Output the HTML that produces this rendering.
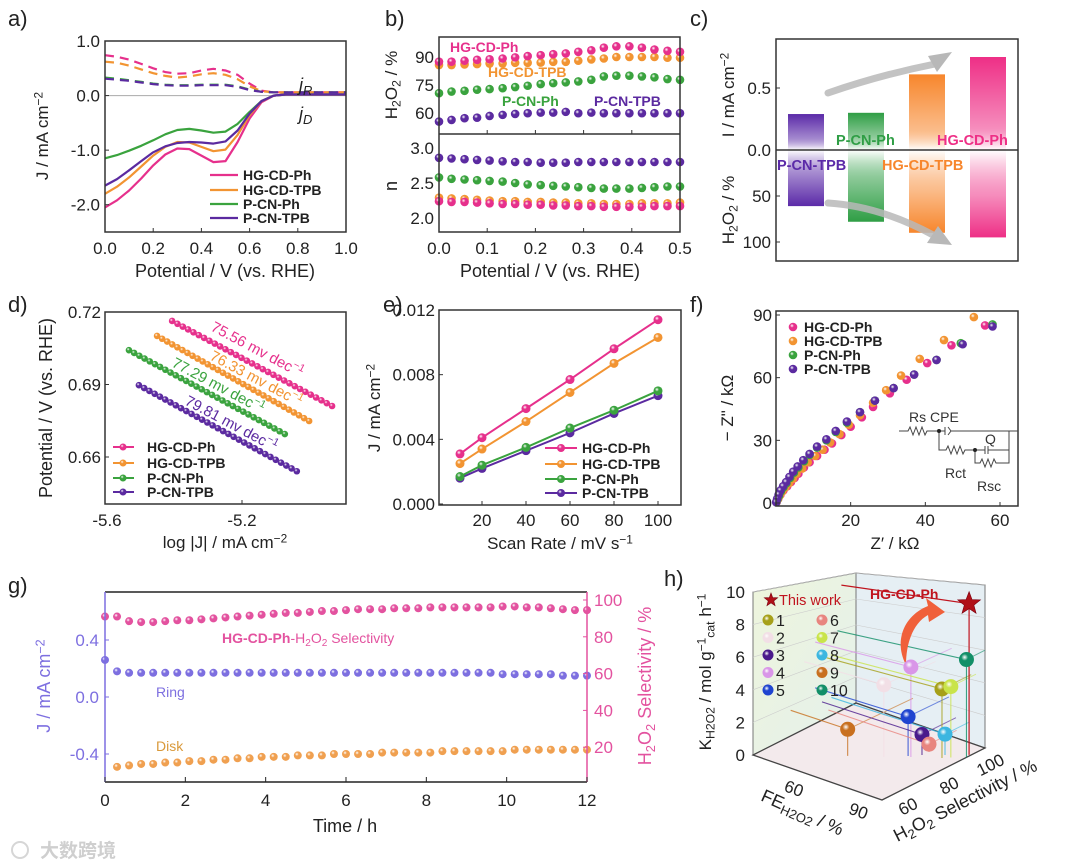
<!DOCTYPE html>
<html><head><meta charset="utf-8"><style>
html,body{margin:0;padding:0;background:#fff;}
svg{display:block;font-family:"Liberation Sans","Noto Sans CJK SC",sans-serif;}
</style></head><body>
<svg id="fig" width="1080" height="868" viewBox="0 0 1080 868" xmlns="http://www.w3.org/2000/svg">
<defs id="defs"></defs>
<rect x="0" y="0" width="1080" height="868" fill="#fff"/>
</svg>
<script>
// ---------- DATA ----------
const seriesNames=["HG-CD-Ph","HG-CD-TPB","P-CN-Ph","P-CN-TPB"];
const seriesColors=["#e6308c","#f29432","#3aa33e","#5b2aa0"];
// panel a: LSV, x = 0..1 step 0.05
const aX=[0,0.05,0.1,0.15,0.2,0.25,0.3,0.35,0.4,0.45,0.5,0.55,0.6,0.65,0.7,0.75,0.8,0.85,0.9,0.95,1.0];
const aDisk=[
[-2.05,-1.92,-1.74,-1.52,-1.28,-1.08,-0.97,-0.98,-1.1,-1.22,-1.2,-0.85,-0.42,-0.12,0.0,0.02,0.02,0.02,0.02,0.02,0.02],
[-1.8,-1.67,-1.5,-1.3,-1.1,-0.94,-0.85,-0.86,-0.94,-1.02,-0.99,-0.72,-0.36,-0.1,0.0,0.02,0.02,0.02,0.02,0.02,0.02],
[-1.15,-1.09,-1.01,-0.92,-0.82,-0.71,-0.63,-0.61,-0.64,-0.68,-0.66,-0.52,-0.3,-0.1,0.0,0.02,0.02,0.02,0.02,0.02,0.02],
[-1.65,-1.53,-1.37,-1.2,-1.04,-0.93,-0.87,-0.85,-0.86,-0.88,-0.84,-0.64,-0.33,-0.1,0.0,0.02,0.02,0.02,0.02,0.02,0.02]];
const aRing=[
[0.74,0.71,0.66,0.58,0.5,0.43,0.4,0.41,0.46,0.49,0.46,0.38,0.22,0.09,0.06,0.06,0.06,0.06,0.06,0.06,0.06],
[0.62,0.6,0.55,0.48,0.41,0.36,0.33,0.35,0.39,0.41,0.38,0.3,0.17,0.08,0.06,0.06,0.06,0.06,0.06,0.06,0.06],
[0.33,0.31,0.28,0.25,0.22,0.2,0.19,0.19,0.2,0.2,0.2,0.17,0.11,0.07,0.06,0.06,0.06,0.06,0.06,0.06,0.06],
[0.31,0.29,0.27,0.24,0.21,0.19,0.18,0.18,0.19,0.19,0.19,0.16,0.1,0.07,0.06,0.06,0.06,0.06,0.06,0.06,0.06]];
const aXTicks=[0,0.2,0.4,0.6,0.8,1.0];
const aYTicks=[1.0,0.0,-1.0,-2.0];
// panel b
const bX=[0,0.026,0.053,0.079,0.105,0.132,0.158,0.184,0.211,0.237,0.263,0.289,0.316,0.342,0.368,0.395,0.421,0.447,0.474,0.5];
const bSel=[
[87.5,87.5,88,88.5,88.8,89.2,89.8,90.5,91,91.5,91.9,92.8,93.6,95,95.7,95.7,95,94,93.3,92.8],
[85.7,85.7,86,86.2,86.5,86.5,86.9,86.9,87,87.4,87.4,88,88.7,89.2,90,90,90,90,89.6,89.6],
[70.6,71.5,71.9,72.5,72.8,73.3,73.9,74.6,75.5,76,76.4,76.9,77.8,79.6,80,80,79.6,79.1,78.2,77.8],
[55.4,56.3,57.2,57.5,58.4,59,59.5,59.9,60.2,60.2,60.6,59.9,60.2,59.9,59.9,59.9,59.9,59.9,59.9,59.9]];
const bN=[
[2.24,2.23,2.23,2.22,2.21,2.2,2.2,2.19,2.19,2.18,2.18,2.17,2.17,2.16,2.16,2.16,2.16,2.17,2.17,2.17],
[2.29,2.28,2.27,2.26,2.25,2.24,2.24,2.23,2.23,2.22,2.22,2.21,2.21,2.2,2.2,2.2,2.21,2.21,2.21,2.22],
[2.58,2.56,2.55,2.54,2.53,2.52,2.5,2.48,2.47,2.46,2.45,2.44,2.43,2.42,2.42,2.42,2.43,2.44,2.45,2.45],
[2.86,2.85,2.84,2.83,2.82,2.81,2.8,2.8,2.79,2.79,2.79,2.8,2.8,2.8,2.8,2.8,2.8,2.8,2.8,2.8]];
const bXTicks=[0,0.1,0.2,0.3,0.4,0.5];
const bSelTicks=[90,75,60];
const bNTicks=[3.0,2.5,2.0];
// panel c
const cNames=["P-CN-TPB","P-CN-Ph","HG-CD-TPB","HG-CD-Ph"];
const cColors=["#5b2aa8","#2f9e45","#f7862c","#ee2f86"];
const cCurrent=[0.29,0.3,0.61,0.75];
const cSel=[61,78,90,95];
const cITicks=[0.5,0.0];
const cSelTicks=[50,100];
// panel d (Tafel fits: start/end of fitted range)
const dXStart=[-5.404,-5.448,-5.530,-5.501];
const dXEnd=[-4.937,-5.004,-5.075,-5.040];
const dYStart=[0.7163,0.7101,0.7042,0.6897];
const dYEnd=[0.6811,0.6749,0.6695,0.6541];
const dSlopes=["75.56","76.33","77.29","79.81"];
const dXTicks=[-5.6,-5.2];
const dYTicks=[0.72,0.69,0.66];
// panel e
const eX=[10,20,40,60,80,100];
const eJ=[
[0.0031,0.0041,0.0059,0.0077,0.0096,0.0114],
[0.0025,0.0034,0.0051,0.0069,0.0087,0.0103],
[0.0017,0.0024,0.0035,0.0047,0.0058,0.0070],
[0.0016,0.0022,0.0033,0.0044,0.0056,0.0067]];
const eXTicks=[20,40,60,80,100];
const eYTicks=[0.000,0.004,0.008,0.012];
// panel f
const fZre=[
[56,47,40.5,35,30.5,26,23,20,17.5,15,13,11,9,7.5,6,5,4,3,2,1.2,0.6,0.2],
[53,45,38.5,33.5,29.5,26,22.5,19.5,17,14.5,12.5,10.5,8.5,7,5.5,4.5,3.5,2.5,1.7,1,0.5,0.1],
[58,49.5,43,37,31.5,26.5,22.5,19,16,13.5,11,9,7.5,6,4.8,3.8,2.8,2,1.3,0.8,0.4,0.1],
[58,50,43,37,31.5,26.5,22.5,19,16,13.5,11,9,7.3,5.8,4.6,3.6,2.7,1.9,1.2,0.7,0.3,0.05]];
const fZim=[
[85,75.5,67,59,52.5,46,41,36.5,32.5,28.5,25.5,22.5,19.5,17,14,12,10,8,6,4,2,0.5],
[89,78,69,61,54,48,42,37.5,33,29,25.5,22.5,19.5,16.5,14,11.5,9.5,7.5,5.5,3.5,1.8,0.4],
[85.5,76.5,68.5,61.5,55,49,43.5,38.5,34,30,26.5,23,20,17,14.5,12,9.5,7.5,5.5,3.5,1.8,0.4],
[84.5,76,68.5,61.5,55,49,43.5,39,34.5,30.5,27,23.5,20.5,17.5,15,12.5,10,8,6,4,2,0.4]];
const fXTicks=[20,40,60];
const fYTicks=[0,30,60,90];
// panel g
const gSel=[91,91,88.5,88,88,88.5,89,89,89.5,90,90.5,91,91.5,92,92.5,93,93,93.5,94,94,94.5,95,95,95,95.5,95.5,95.5,96,96,96,96,96,96,96.5,96.5,96,96,95.5,95,94.5,94.5];
const gRing=[0.26,0.18,0.17,0.17,0.17,0.17,0.17,0.17,0.17,0.17,0.17,0.17,0.17,0.17,0.17,0.17,0.17,0.17,0.17,0.17,0.17,0.17,0.17,0.17,0.17,0.17,0.17,0.17,0.17,0.17,0.17,0.17,0.17,0.16,0.16,0.16,0.16,0.16,0.15,0.15,0.15];
const gDisk=[-0.49,-0.48,-0.47,-0.47,-0.46,-0.46,-0.45,-0.45,-0.44,-0.44,-0.43,-0.43,-0.42,-0.42,-0.42,-0.41,-0.41,-0.41,-0.4,-0.4,-0.4,-0.4,-0.39,-0.39,-0.39,-0.39,-0.39,-0.38,-0.38,-0.38,-0.38,-0.38,-0.38,-0.37,-0.37,-0.37,-0.37,-0.37,-0.37,-0.37,-0.37];
const gXTicks=[0,2,4,6,8,10,12];
const gLTicks=[0.4,0.0,-0.4];
const gRTicks=[100,80,60,40,20];
// panel h (3D)
const hLabels=["1","2","3","4","5","6","7","8","9","10"];
const hColors=["#a6a019","#f2dfe6","#4a1a8c","#d996e8","#1f44d0","#e8857f","#c9e44a","#3cb6e0","#c8701f","#128f68"];
const hFE=[93.6,77,86.5,84.5,83.2,86.8,95.8,92.8,66.5,100];
const hSelH=[85.8,74.9,83.5,80.2,80.2,86.6,87.8,88.1,68.3,91];
const hK=[4.3,4.6,1.3,5.7,2.5,0.5,4.4,1.3,1.7,6.0];
const hStar=[99.4,92.9,9.3];
const hKTicks=[0,2,4,6,8,10];
const hFETicks=[60,90];
const hSelTicks=[60,80,100];

// ---------- HELPERS ----------
const NS='http://www.w3.org/2000/svg';
const svg=document.getElementById('fig');
const defs=document.getElementById('defs');
function mk(tag,attrs,parent){const e=document.createElementNS(NS,tag);for(const k in attrs)e.setAttribute(k,attrs[k]);(parent||svg).appendChild(e);return e;}
function lin(d0,d1,r0,r1){return v=>r0+(v-d0)*(r1-r0)/(d1-d0);}
function T(x,y,html,size,o){o=o||{};const t=mk('text',{x:x,y:y,'font-size':size,fill:o.fill||'#222','text-anchor':o.anchor||'start'});
 if(o.bold)t.setAttribute('font-weight','bold');if(o.italic)t.setAttribute('font-style','italic');
 if(o.rot!==undefined)t.setAttribute('transform','rotate('+o.rot+' '+x+' '+y+')');
 if(o.db)t.setAttribute('dominant-baseline',o.db);
 t.innerHTML=html;return t;}
const gradCache={};
function sphere(color){if(gradCache[color])return gradCache[color];const id='g'+Object.keys(gradCache).length;
 const g=mk('radialGradient',{id:id,cx:'0.38',cy:'0.35',r:'0.65'},defs);
 mk('stop',{offset:'0','stop-color':'#ffffff','stop-opacity':'0.9'},g);
 mk('stop',{offset:'0.35','stop-color':color},g);
 mk('stop',{offset:'1','stop-color':color,'stop-opacity':'1'},g);
 gradCache[color]='url(#'+id+')';return gradCache[color];}
function frame(x0,y0,x1,y1,name){const r=mk('rect',{x:x0,y:y0,width:x1-x0,height:y1-y0,fill:'none',stroke:'#333','stroke-width':1.5});
 
 }
const SUB=(s)=>'<tspan dy="0.3em" font-size="72%">'+s+'</tspan><tspan dy="-0.22em">\u200B</tspan>';
const SUP=(s)=>'<tspan dy="-0.45em" font-size="70%">'+s+'</tspan><tspan dy="0.32em">\u200B</tspan>';
const H2O2='H'+SUB('2')+'O'+SUB('2');
let t;

// ---------- PANEL a ----------
{
const X=lin(0,1,105,346),Y=lin(1,-2.5,41,232);
const g=mk('g',{});


t=T(8,26,'a)',22,{});


mk('line',{x1:105,x2:346,y1:Y(0),y2:Y(0),stroke:'#aaa','stroke-width':1},g);
for(let s=0;s<4;s++){
 const dp=aX.map((x,i)=>X(x).toFixed(1)+','+Y(aDisk[s][i]).toFixed(1)).join(' ');
 const p=mk('polyline',{points:dp,fill:'none',stroke:seriesColors[s],'stroke-width':2.2,'stroke-linejoin':'round'},g);
 
 
 const rp=aX.map((x,i)=>X(x).toFixed(1)+','+Y(aRing[s][i]).toFixed(1)).join(' ');
 const q=mk('polyline',{points:rp,fill:'none',stroke:seriesColors[s],'stroke-width':2.2,'stroke-dasharray':'9,6'},g);
 
 
}
frame(105,41,346,232,'panel-a-frame');
aXTicks.forEach(v=>{mk('line',{x1:X(v),x2:X(v),y1:232,y2:228,stroke:'#333'});
 t=T(X(v),254,v.toFixed(1),17,{anchor:'middle'});
 
 });
aYTicks.forEach(v=>{mk('line',{x1:105,x2:109,y1:Y(v),y2:Y(v),stroke:'#333'});
 t=T(100,Y(v)+6,v.toFixed(1),17,{anchor:'end'});
 
 });
t=T(48,136,'J / mA cm'+SUP('−2'),17,{anchor:'middle',rot:-90});


t=T(225,277,'Potential / V (vs. RHE)',18,{anchor:'middle'});


t=T(299,91,'j'+SUB('R'),18,{italic:true});


t=T(299,120,'j'+SUB('D'),18,{italic:true});


[175,190,204,218].forEach((y,s)=>{mk('line',{x1:210,x2:238,y1:y,y2:y,stroke:seriesColors[s],'stroke-width':2.2});
 t=T(243,y+5,seriesNames[s],14,{bold:true});
 
 });
}

// ---------- PANEL b ----------
{
const X=lin(0,0.5,439,680),Y1=lin(60,90,113,57),Y2=lin(2,3,218,148);
t=T(385,26,'b)',22,{});


for(let s=3;s>=0;s--){bX.forEach((x,i)=>{
 const c=mk('circle',{cx:X(x),cy:Y1(bSel[s][i]),r:4.3,fill:sphere(seriesColors[s])});
 
 
 const d=mk('circle',{cx:X(x),cy:Y2(bN[s][i]),r:4.3,fill:sphere(seriesColors[s])});
 
 });}
frame(439,37,680,232,'panel-b-frame');
mk('line',{x1:439,x2:680,y1:134,y2:134,stroke:'#333','stroke-width':1.5});
bXTicks.forEach(v=>{mk('line',{x1:X(v),x2:X(v),y1:232,y2:228,stroke:'#333'});mk('line',{x1:X(v),x2:X(v),y1:134,y2:130,stroke:'#333'});
 t=T(X(v),254,v.toFixed(1),17,{anchor:'middle'});
 
 });
bSelTicks.forEach(v=>{t=T(434,Y1(v)+6,String(v),17,{anchor:'end'});
 
 });
bNTicks.forEach(v=>{t=T(434,Y2(v)+6,v.toFixed(1),17,{anchor:'end'});
 
 });
t=T(397,85,H2O2+' / %',17,{anchor:'middle',rot:-90});


t=T(397,186,'n',18,{anchor:'middle',rot:-90});


[[450,52,0],[488,77,1],[502,106,2],[594,106,3]].forEach(a=>{t=T(a[0],a[1],seriesNames[a[2]],14,{bold:true,fill:seriesColors[a[2]]});
 
 });
t=T(550,277,'Potential / V (vs. RHE)',18,{anchor:'middle'});


}

// ---------- PANEL c ----------
{
const YI=lin(0,0.5,150,88),YS=lin(0,100,150,242);
const cx=[806,866,927,988];
t=T(690,26,'c)',22,{});


cNames.forEach((n,i)=>{
 const id='cb'+i;const top=YI(cCurrent[i]),bot=YS(cSel[i]);const z=(150-top)/(bot-top);
 const lg=mk('linearGradient',{id:id,x1:0,y1:0,x2:0,y2:1},defs);
 mk('stop',{offset:0,'stop-color':cColors[i]},lg);
 mk('stop',{offset:Math.max(0,z-0.12),'stop-color':cColors[i],'stop-opacity':0.55},lg);
 mk('stop',{offset:z,'stop-color':'#fff','stop-opacity':0.8},lg);
 mk('stop',{offset:Math.min(1,z+0.25),'stop-color':cColors[i],'stop-opacity':0.55},lg);
 mk('stop',{offset:1,'stop-color':cColors[i]},lg);
 const r=mk('rect',{x:cx[i]-18,y:top,width:36,height:bot-top,fill:'url(#'+id+')'});
 
 
});
frame(776,39,1018,261,'panel-c-frame');
mk('line',{x1:776,x2:1018,y1:150,y2:150,stroke:'#333','stroke-width':1.5});
cITicks.forEach(v=>{mk('line',{x1:776,x2:780,y1:YI(v),y2:YI(v),stroke:'#333'});
 t=T(771,YI(v)+6,v.toFixed(1),17,{anchor:'end'});
 
 });
cSelTicks.forEach(v=>{mk('line',{x1:776,x2:780,y1:YS(v),y2:YS(v),stroke:'#333'});
 t=T(771,YS(v)+6,String(v),17,{anchor:'end'});
 
 });
t=T(734,95,'I / mA cm'+SUP('−2'),17,{anchor:'middle',rot:-90});


t=T(734,210,H2O2+' / %',17,{anchor:'middle',rot:-90});


const a1=mk('path',{d:'M828,93 Q880,75 935,64',fill:'none',stroke:'#b8b8b8','stroke-width':7,'stroke-linecap':'round',opacity:0.85});


mk('polygon',{points:'952,52 928,56 937,72',fill:'#b8b8b8'});
const a2=mk('path',{d:'M828,203 Q880,206 935,236',fill:'none',stroke:'#b8b8b8','stroke-width':7,'stroke-linecap':'round',opacity:0.85});


mk('polygon',{points:'952,245 927,243 938,226',fill:'#b8b8b8'});
[[777,170,0],[836,145,1],[882,170,2],[937,145,3]].forEach(a=>{t=T(a[0],a[1],cNames[a[2]],14.5,{bold:true,fill:cColors[a[2]]});
 
 });
}

// ---------- PANEL d ----------
{
const X=lin(-5.6,-5.2,105,242),Y=lin(0.72,0.66,312,457);
t=T(8,312,'d)',22,{});


for(let s=0;s<4;s++){
 const n=31;
 mk('line',{x1:X(dXStart[s]),y1:Y(dYStart[s]),x2:X(dXEnd[s]),y2:Y(dYEnd[s]),stroke:seriesColors[s],'stroke-width':1.5});
 for(let i=0;i<n;i++){const f=i/(n-1);
  const c=mk('circle',{cx:X(dXStart[s]+(dXEnd[s]-dXStart[s])*f),cy:Y(dYStart[s]+(dYEnd[s]-dYStart[s])*f),r:3.3,fill:sphere(seriesColors[s])});
  
  }
}
frame(105,312,346,504,'panel-d-frame');
dXTicks.forEach(v=>{mk('line',{x1:X(v),x2:X(v),y1:504,y2:500,stroke:'#333'});
 t=T(X(v)+(v<-5.5?2:0),526,v.toFixed(1),17,{anchor:'middle'});
 
 });
dYTicks.forEach(v=>{mk('line',{x1:105,x2:109,y1:Y(v),y2:Y(v),stroke:'#333'});
 t=T(101,Y(v)+6,v.toFixed(2),17,{anchor:'end'});
 
 });
t=T(52,408,'Potential / V (vs. RHE)',18,{anchor:'middle',rot:-90});


t=T(225,548,'log |J| / mA cm'+SUP('−2'),17,{anchor:'middle'});


[[212,326],[211,355],[173,362],[186,400]].forEach((p,s)=>{t=T(p[0],p[1],dSlopes[s]+' mv dec'+SUP('−1'),15,{fill:seriesColors[s],rot:28,db:'central'});
 
 });
[447,463,478,492].forEach((y,s)=>{mk('line',{x1:113,x2:134,y1:y,y2:y,stroke:seriesColors[s],'stroke-width':2});
 mk('circle',{cx:123,cy:y,r:3.5,fill:sphere(seriesColors[s])});
 t=T(147,y+5,seriesNames[s],14,{bold:true});
 
 });
}

// ---------- PANEL e ----------
{
const X=lin(0,100,438,658),Y=lin(0,0.012,504,310);
t=T(383,312,'e)',22,{});


for(let s=3;s>=0;s--){
 const p=mk('polyline',{points:eX.map((x,i)=>X(x)+','+Y(eJ[s][i])).join(' '),fill:'none',stroke:seriesColors[s],'stroke-width':2});
 
 
 eX.forEach((x,i)=>{const c=mk('circle',{cx:X(x),cy:Y(eJ[s][i]),r:4.5,fill:sphere(seriesColors[s])});
  
  });
}
frame(439,310,681,505,'panel-e-frame');
eXTicks.forEach(v=>{mk('line',{x1:X(v),x2:X(v),y1:505,y2:501,stroke:'#333'});
 t=T(X(v),526,String(v),17,{anchor:'middle'});
 
 });
eYTicks.forEach(v=>{mk('line',{x1:439,x2:443,y1:Y(v),y2:Y(v),stroke:'#333'});
 t=T(435,Y(v)+6,v.toFixed(3),17,{anchor:'end'});
 
 });
t=T(380,408,'J / mA cm'+SUP('−2'),17,{anchor:'middle',rot:-90});


t=T(560,549,'Scan Rate / mV s'+SUP('−1'),17,{anchor:'middle'});


[448,464,479,493].forEach((y,s)=>{mk('line',{x1:545,x2:577,y1:y,y2:y,stroke:seriesColors[s],'stroke-width':2});
 mk('circle',{cx:561,cy:y,r:4,fill:sphere(seriesColors[s])});
 t=T(582,y+5,seriesNames[s],14,{bold:true});
 
 });
}

// ---------- PANEL f ----------
{
const X=lin(0,60,776,1000),Y=lin(0,90,503,315);
t=T(690,312,'f)',22,{});


for(let s=0;s<4;s++){fZre[s].forEach((x,i)=>{const c=mk('circle',{cx:X(x),cy:Y(fZim[s][i]),r:4.3,fill:sphere(seriesColors[s])});
 
 });}
frame(776,311,1018,506,'panel-f-frame');
fXTicks.forEach(v=>{mk('line',{x1:X(v),x2:X(v),y1:506,y2:502,stroke:'#333'});
 t=T(X(v),526,String(v),17,{anchor:'middle'});
 
 });
fYTicks.forEach(v=>{mk('line',{x1:776,x2:780,y1:Y(v),y2:Y(v),stroke:'#333'});
 t=T(772,Y(v)+6,String(v),17,{anchor:'end'});
 
 });
t=T(733,408,'− Z" / kΩ',17,{anchor:'middle',rot:-90});


t=T(895,549,"Z′ / kΩ",17,{anchor:'middle'});


[327,341,355,369].forEach((y,s)=>{mk('circle',{cx:793,cy:y,r:4.3,fill:sphere(seriesColors[s])});
 t=T(804,y+5,seriesNames[s],14,{bold:true});
 
 });
const ck=mk('g',{fill:'none',stroke:'#444','stroke-width':1});


mk('path',{d:'M899,431 H908 l2,-4 3,8 3,-8 3,8 3,-8 3,8 2,-4 H939 M939,431 H945 M945,427 v8 M948,427 l3,4 -3,4 M951,431 H1018 M939,431 V450 H946 l2,-4 3,8 3,-8 3,8 3,-8 3,8 2,-4 H975 M975,450 H985 M985,446 v8 M988,446 v8 M988,450 H1009 V431 M975,450 V463 H980 l2,-4 3,8 3,-8 3,8 3,-8 2,4 H1009 V450'},ck);
mk('circle',{cx:939,cy:431,r:2,fill:'#222'});mk('circle',{cx:975,cy:450,r:2,fill:'#222'});
[[909,422,'Rs  CPE'],[985,444,'Q'],[945,478,'Rct'],[977,491,'Rsc']].forEach(a=>{t=T(a[0],a[1],a[2],14,{fill:'#333'});
 
 });
}

// ---------- PANEL g ----------
{
const X=lin(0,12,105,587),YL=lin(0,0.4,697,640),YR=lin(0,100,784,600);
const pur='#7d6fe0',pink='#e3529f',org='#f0a050';
t=T(8,593,'g)',22,{});


const n=gSel.length;
for(let i=0;i<n;i++){const tt=12*i/(n-1);
 let c=mk('circle',{cx:X(tt),cy:YR(gSel[i]),r:4,fill:sphere(pink)});
 
 
 c=mk('circle',{cx:X(tt),cy:YL(gRing[i]),r:4,fill:sphere(pur)});
 
 
 if(i>0){c=mk('circle',{cx:X(tt),cy:YL(gDisk[i-1]),r:4,fill:sphere(org)});
 
 }
}
mk('line',{x1:105,x2:587,y1:592,y2:592,stroke:'#222','stroke-width':1.5});
mk('line',{x1:105,x2:587,y1:782,y2:782,stroke:'#222','stroke-width':1.5});
mk('line',{x1:105,x2:105,y1:592,y2:782,stroke:pur,'stroke-width':1.5});
mk('line',{x1:587,x2:587,y1:592,y2:782,stroke:pink,'stroke-width':1.5});
gXTicks.forEach(v=>{mk('line',{x1:X(v),x2:X(v),y1:782,y2:777,stroke:'#222'});
 t=T(X(v),806,String(v),17,{anchor:'middle'});
 
 });
gLTicks.forEach(v=>{mk('line',{x1:105,x2:109,y1:YL(v),y2:YL(v),stroke:pur});
 t=T(99,YL(v)+6,v.toFixed(1),17,{anchor:'end',fill:pur});
 
 });
gRTicks.forEach(v=>{mk('line',{x1:583,x2:587,y1:YR(v),y2:YR(v),stroke:pink});
 t=T(594,YR(v)+6,String(v),17,{fill:pink});
 
 });
t=T(50,686,'J / mA cm'+SUP('−2'),18,{anchor:'middle',rot:-90,fill:pur});


t=T(651,686,H2O2+' Selectivity / %',18,{anchor:'middle',rot:-90,fill:pink});


t=T(345,832,'Time / h',18,{anchor:'middle'});


t=T(222,643,'<tspan font-weight="bold">HG-CD-Ph</tspan>-'+H2O2+' Selectivity',14,{fill:pink});


t=T(156,697,'Ring',14,{fill:pur});


t=T(156,751,'Disk',14,{fill:'#d9993a'});


}

// ---------- PANEL h ----------
{
const A=[753,755],B=[882,800],C=[985,748];
function P(fe,sel,k){const f=(fe-40)/60,s=(sel-50)/50;const ks=16.3-3.3*s*(1-f);
 return [A[0]+f*(B[0]-A[0])+s*(C[0]-B[0]), A[1]+f*(B[1]-A[1])+s*(C[1]-B[1])-k*ks];}
const pts=a=>a.map(p=>p.join(',')).join(' ');
t=T(664,586,'h)',22,{});


const lg1=mk('linearGradient',{id:'hwl',x1:0,y1:0,x2:1,y2:1},defs);
mk('stop',{offset:0,'stop-color':'#eef5dc'},lg1);mk('stop',{offset:1,'stop-color':'#e4f0ec'},lg1);
let w=mk('polygon',{points:pts([P(40,50,0),P(40,100,0),P(40,100,10),P(40,50,10)]),fill:'url(#hwl)',stroke:'#777','stroke-width':1});


w=mk('polygon',{points:pts([P(40,100,0),P(100,100,0),P(100,100,10),P(40,100,10)]),fill:'#e6eff4',stroke:'#777','stroke-width':1});


w=mk('polygon',{points:pts([P(40,50,0),P(100,50,0),P(100,100,0),P(40,100,0)]),fill:'#f3eaec',stroke:'#444','stroke-width':1.3});


hKTicks.forEach(k=>{if(k>0){mk('polyline',{points:pts([P(40,50,k),P(40,100,k),P(100,100,k)]),fill:'none',stroke:'#ccc','stroke-width':0.6});}});
const order=hLabels.map((_,i)=>i).sort((a,b)=>(hFE[a]+hSelH[a])-(hFE[b]+hSelH[b]));
order.forEach(i=>{const p=P(hFE[i],hSelH[i],hK[i]);
 mk('polyline',{points:pts([P(40,hSelH[i],hK[i]),p,P(hFE[i],hSelH[i],0)]),fill:'none',stroke:hColors[i],'stroke-width':1.1,opacity:0.8});
 mk('line',{x1:p[0],y1:p[1],x2:P(hFE[i],100,hK[i])[0],y2:P(hFE[i],100,hK[i])[1],stroke:hColors[i],'stroke-width':1,opacity:0.6});});
const sp=P(hStar[0],hStar[1],hStar[2]);
mk('polyline',{points:pts([P(40,hStar[1],hStar[2]),sp,P(hStar[0],hStar[1],0)]),fill:'none',stroke:'#c0141e','stroke-width':1.2});
const arr=mk('path',{d:'M906,665 C893,640 905,615 928,606 L926,598 L945,612 L929,622 L928,615 C912,624 906,645 906,665 Z',fill:'#f0603a'});


order.forEach(i=>{const p=P(hFE[i],hSelH[i],hK[i]);
 const c=mk('circle',{cx:p[0],cy:p[1],r:7.5,fill:sphere(hColors[i])});
 
 });
function star(cx,cy,R,col,name){const a=[];for(let j=0;j<10;j++){const r=j%2?R*0.42:R;const an=-Math.PI/2+j*Math.PI/5;a.push([(cx+r*Math.cos(an)).toFixed(1),(cy+r*Math.sin(an)).toFixed(1)]);}
 const s=mk('polygon',{points:pts(a),fill:col,stroke:'#7a0010','stroke-width':0.6});
 
 }
star(sp[0],sp[1],12,'#b01018','this-work-star');
t=T(870,599,'HG-CD-Ph',14,{bold:true,fill:'#c0141e'});


hKTicks.forEach(k=>{const p=P(40,50,k);
 t=T(p[0]-8,p[1]+6,String(k),17,{anchor:'end'});
 
 });
hFETicks.forEach(v=>{const p=P(v,50,0);
 t=T(p[0]-4,p[1]+24,String(v),17,{anchor:'middle',rot:20});
 
 });
hSelTicks.forEach(v=>{const p=P(100,v,0);
 t=T(p[0]+8,p[1]+22,String(v),17,{anchor:'middle',rot:-27});
 
 });
t=T(711,672,'K'+SUB('H2O2')+' / mol g'+SUP('−1')+SUB('cat')+' h'+SUP('−1'),17,{anchor:'middle',rot:-90});


t=T(800,818,'FE'+SUB('H2O2')+' / %',18,{anchor:'middle',rot:24});


t=T(968,806,H2O2+' Selectivity / %',18,{anchor:'middle',rot:-27});


star(771,600,7,'#b01018','legend-star');
t=T(779,605,'This work',14.5,{fill:'#c0141e'});


hLabels.forEach((l,i)=>{const col=i<5?0:1,row=i%5;const x=col?822:768,y=620+row*17.5;
 mk('circle',{cx:x,cy:y,r:5.5,fill:sphere(hColors[i])});
 t=T(x+8,y+6,l,16,{});
 
 });
}

// watermark
t=T(40,857,'大数跨境',19,{fill:'#cfcfcf',bold:true});


mk('circle',{cx:20,cy:850,r:8,fill:'none',stroke:'#d6d6d6','stroke-width':2});
</script>
</body></html>
